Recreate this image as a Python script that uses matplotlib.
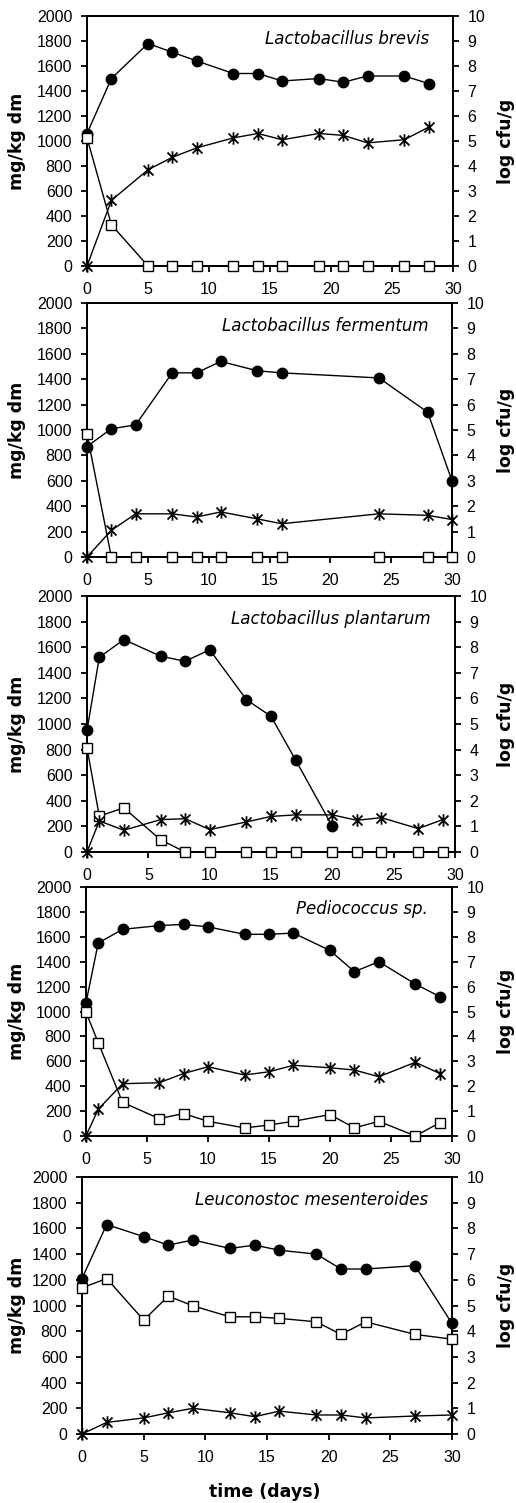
import matplotlib
matplotlib.use("Agg")
import matplotlib.pyplot as plt
from matplotlib.path import Path

# ---------------- data ----------------
species = ["Lactobacillus brevis", "Lactobacillus fermentum", "Lactobacillus plantarum",
           "Pediococcus sp.", "Leuconostoc mesenteroides"]

# Lactobacillus brevis
days_1 = [0, 2, 5, 7, 9, 12, 14, 16, 19, 21, 23, 26, 28]
count_1 = [5.3, 7.5, 8.9, 8.55, 8.2, 7.7, 7.7, 7.4, 7.5, 7.35, 7.6, 7.6, 7.3]          # log cfu/g
square_1 = [1025, 330, 0, 0, 0, 0, 0, 0, 0, 0, 0, 0, 0]                                # mg/kg dm
star_1 = [0, 525, 770, 870, 945, 1025, 1060, 1010, 1060, 1045, 985, 1010, 1110]       # mg/kg dm

# Lactobacillus fermentum
days_2 = [0, 2, 4, 7, 9, 11, 14, 16, 24, 28, 30]
count_2 = [4.35, 5.05, 5.2, 7.25, 7.25, 7.7, 7.33, 7.25, 7.05, 5.7, 3.0]
square_2 = [970, 0, 0, 0, 0, 0, 0, 0, 0, 0, 0]
star_2 = [0, 210, 340, 340, 315, 355, 300, 262, 340, 328, 295]

# Lactobacillus plantarum
days_3 = [0, 1, 3, 6, 8, 10, 13, 15, 17, 20, 22, 24, 27, 29]
count_days_3 = [0, 1, 3, 6, 8, 10, 13, 15, 17, 20]
count_3 = [4.75, 7.6, 8.3, 7.65, 7.45, 7.9, 5.95, 5.3, 3.6, 1.0]
square_3 = [815, 280, 345, 95, 0, 0, 0, 0, 0, 0, 0, 0, 0, 0]
star_3 = [0, 243, 170, 253, 260, 175, 235, 278, 290, 290, 248, 268, 183, 253]

# Pediococcus sp.
days_4 = [0, 1, 3, 6, 8, 10, 13, 15, 17, 20, 22, 24, 27, 29]
count_4 = [5.35, 7.75, 8.3, 8.45, 8.5, 8.4, 8.1, 8.1, 8.15, 7.45, 6.6, 7.0, 6.1, 5.6]
square_4 = [995, 750, 270, 140, 180, 118, 65, 88, 118, 172, 65, 118, 0, 107]
star_4 = [0, 215, 420, 428, 502, 556, 490, 516, 568, 548, 530, 476, 592, 502]

# Leuconostoc mesenteroides
days_5 = [0, 2, 5, 7, 9, 12, 14, 16, 19, 21, 23, 27, 30]
count_5 = [6.05, 8.15, 7.68, 7.35, 7.55, 7.22, 7.35, 7.15, 7.0, 6.42, 6.42, 6.55, 4.3]
square_5 = [1137, 1210, 886, 1073, 997, 912, 912, 900, 873, 775, 873, 775, 738]
star_5 = [0, 90, 125, 165, 200, 165, 135, 178, 148, 148, 125, 140, 148]

panels = [
    (days_1, count_1, square_1, star_1, days_1),
    (days_2, count_2, square_2, star_2, days_2),
    (days_3, count_3, square_3, star_3, count_days_3),
    (days_4, count_4, square_4, star_4, days_4),
    (days_5, count_5, square_5, star_5, days_5),
]

xticks = [0, 5, 10, 15, 20, 25, 30]
left_ticks = [0, 200, 400, 600, 800, 1000, 1200, 1400, 1600, 1800, 2000]
right_ticks = [0, 1, 2, 3, 4, 5, 6, 7, 8, 9, 10]

# ---------------- layout (pixels) ----------------
W, H = 516, 1503
boxes = [(87, 453, 16, 266), (87, 452, 303, 557), (87, 455, 596, 852),
         (86, 452, 887, 1136), (82, 452, 1177, 1434)]

# asterisk marker: x plus vertical bar
ast = Path([(-1, -1), (1, 1), (-1, 1), (1, -1), (0, -1.25), (0, 1.25)],
           [Path.MOVETO, Path.LINETO, Path.MOVETO, Path.LINETO, Path.MOVETO, Path.LINETO])

tickfont = "Liberation Sans"
fig = plt.figure(figsize=(W / 100, H / 100), dpi=100)

for i, ((dx, cnt, sq, st, cdx), (l, r, t, b)) in enumerate(zip(panels, boxes)):
    ax = fig.add_axes([l / W, 1 - b / H, (r - l) / W, (b - t) / H])
    ax2 = ax.twinx()
    ax.set_zorder(ax2.get_zorder() + 1)
    ax.patch.set_visible(False)

    ax2.plot(cdx, cnt, color="black", lw=1.0, marker="o", ms=7.5,
             mfc="black", mec="black", clip_on=False, zorder=3)
    ax.plot(dx, sq, color="black", lw=1.0, marker="s", ms=7,
            mfc="white", mec="black", mew=1.0, clip_on=False, zorder=4)
    ax.plot(dx, st, color="black", lw=1.0, marker=ast, ms=9,
            mfc="none", mec="black", mew=1.3, clip_on=False, zorder=5)

    ax.set_xlim(0, 30)
    ax.set_ylim(0, 2000)
    ax2.set_ylim(0, 10)
    ax.set_xticks(xticks)
    ax.set_yticks(left_ticks)
    ax2.set_yticks(right_ticks)

    for a in (ax, ax2):
        for s in a.spines.values():
            s.set_linewidth(1.4)
    ax.tick_params(axis="x", direction="out", length=4, width=1.3, pad=7.5,
                   labelsize=11.5, labelfontfamily=tickfont)
    ax.tick_params(axis="y", direction="out", length=4, width=1.3, pad=6.5,
                   labelsize=11.5, labelfontfamily=tickfont)
    ax2.tick_params(axis="y", direction="out", length=4, width=1.3, pad=6.3,
                    labelsize=11.5, labelfontfamily=tickfont)

    ax.set_ylabel("mg/kg dm", fontsize=12.5, fontweight="bold", family="DejaVu Sans")
    ax2.set_ylabel("log cfu/g", fontsize=12.5, fontweight="bold", family="DejaVu Sans",
                   rotation=90)
    ax.yaxis.set_label_coords((26 - l) / (r - l), 0.5)
    ax2.yaxis.set_label_coords((497 - l) / (r - l), 0.5)

    ax.text(0.935, 0.91, species[i], transform=ax.transAxes, ha="right", va="center",
            fontsize=12, style="italic", family="DejaVu Sans")

fig.text(265 / W, 1 - 1492 / H, "time (days)", ha="center", va="center",
         fontsize=12.5, fontweight="bold", family="DejaVu Sans")

fig.savefig("out.png", dpi=100)
